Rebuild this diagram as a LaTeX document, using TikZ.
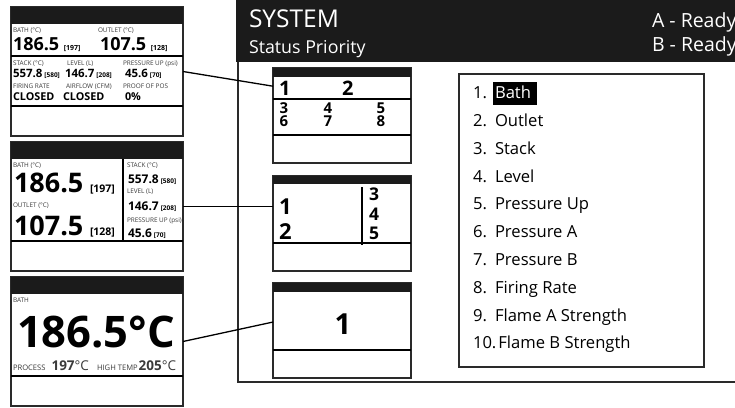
\documentclass[tikz,border=0pt]{standalone}
\usepackage{fontspec}
\setmainfont{Open Sans}
\usetikzlibrary{calc}
\definecolor{hdr}{HTML}{1B1B1B}
\definecolor{lblgray}{HTML}{3A3A3A}
\definecolor{frm}{HTML}{2A2A2A}
\newcommand{\fsz}[1]{\fontsize{#1}{#1}\selectfont}
\begin{document}
\begin{tikzpicture}[x=1pt,y=-1pt,
  txt/.style={anchor=base west, inner sep=0pt, outer sep=0pt},
  lbl/.style={txt, font=\fsz{6.4}, text=lblgray},
  bignum/.style={txt, font=\fsz{#1}\bfseries},
  colnum/.style={anchor=base west, inner sep=0pt, outer sep=0pt, align=left, font=\fontsize{15}{13}\selectfont\bfseries},
  ctrnum/.style={anchor=base, inner sep=0pt, outer sep=0pt, font=\fsz{#1}\bfseries},
  screen/.style={draw=frm, line width=1.1pt, minimum width=172pt, minimum height=129pt, inner sep=0pt, outer sep=0pt},
  miniscreen/.style={draw=frm, line width=1.1pt, minimum width=138pt, minimum height=95pt, inner sep=0pt, outer sep=0pt},
  divider/.style={line width=1.8pt, black},
  conn/.style={line width=1.3pt, black},
  listitem/.style={txt, font=\fsz{16.6}},
  hdrtxt/.style={txt, text=white},
]
\useasboundingbox (0,0) rectangle (735,407);

% ---------- left screens ----------
\node[screen] (s1) at (97,71.5) {};
\fill[hdr] (11,7) rectangle (183,24);
\draw[divider] (11,56) -- (183,56);
\draw[divider] (11,106) -- (183,106);

\node[screen] (s2) at (97,206.5) {};
\fill[hdr] (11,142) rectangle (183,159);
\draw[divider] (11,241) -- (183,241);
\draw[divider] (123,159) -- (123,241);

\node[screen] (s3) at (97,341.5) {};
\fill[hdr] (11,277) rectangle (183,294);
\draw[divider] (11,376) -- (183,376);

% screen 1 texts
\node[lbl] (a1) at (13,32) {BATH (°C)};
\node[lbl] (a2) at (98,32) {OUTLET (°C)};
\node[bignum=18] (a3) at (13,50) {186.5 {\fsz{7}[197]}};
\node[bignum=18] (a4) at (100,50) {107.5 {\fsz{7}[128]}};
\node[lbl] (a5) at (13,65) {STACK (°C)};
\node[lbl] (a6) at (67,65) {LEVEL (L)};
\node[lbl] (a7) at (123,65) {PRESSURE UP (psi)};
\node[bignum=11.5] (a8) at (13,77) {557.8\,{\fsz{6.5}[580]}};
\node[bignum=11.5] (a9) at (65,77) {146.7\,{\fsz{6.5}[208]}};
\node[bignum=11.5] (a10) at (125,77) {45.6\,{\fsz{6.5}[70]}};
\node[lbl] (a11) at (13,88) {FIRING RATE};
\node[lbl] (a12) at (66,88) {AIRFLOW (CFM)};
\node[lbl] (a13) at (123,88) {PROOF OF POS};
\node[bignum=10.8] (a14) at (13,100) {CLOSED};
\node[bignum=10.8] (a15) at (63,100) {CLOSED};
\node[bignum=10.8] (a16) at (125,100) {0\%};

% screen 2 texts
\node[lbl] (b1) at (13,167) {BATH (°C)};
\node[bignum=27] (b2) at (14,192) {186.5};
\node[bignum=10.5] (b3) at (90,192) {[197]};
\node[lbl] (b4) at (13,207) {OUTLET (°C)};
\node[bignum=27] (b5) at (14,235) {107.5};
\node[bignum=10.5] (b6) at (90,235) {[128]};
\node[lbl] (b7) at (127,167) {STACK (°C)};
\node[bignum=12] (b8) at (128,183) {557.8\,{\fsz{6.5}[580]}};
\node[lbl] (b9) at (127,193) {LEVEL (L)};
\node[bignum=12] (b10) at (128,210) {146.7\,{\fsz{6.5}[208]}};
\node[lbl] (b11) at (127,222) {PRESSURE UP (psi)};
\node[bignum=12] (b12) at (128,237) {45.6\,{\fsz{6.5}[70]}};

% screen 3 texts
\node[lbl] (c1) at (13,302) {BATH};
\node[bignum=43.5] (c2) at (17,347) {186.5°C};
\node[lbl, font=\fsz{7.6}] (c3) at (13,370) {PROCESS\hspace{6pt}{\fsz{13.5}\bfseries 197}{\fsz{13.5}°C}};
\node[lbl, font=\fsz{7.6}] (c4) at (97,370) {HIGH TEMP\hspace{1pt}{\fsz{13.5}\bfseries 205}{\fsz{13.5}°C}};

% ---------- system panel ----------
\fill[hdr] (236,0) rectangle (735,62);
\draw[line width=1.6pt, frm] (238,62) -- (238,382) -- (736,382);
\node[hdrtxt, font=\fsz{24.5}] (h1) at (249,27) {SYSTEM};
\node[hdrtxt, font=\fsz{17.8}] (h2) at (249,53) {Status Priority};
\node[hdrtxt, font=\fsz{19.5}] (h3) at (652,27.5) {A - Ready};
\node[hdrtxt, font=\fsz{19.5}] (h4) at (652,51) {B - Ready};

% mini screens
\node[miniscreen] (t1) at (342,115.5) {};
\fill[hdr] (273,68) rectangle (411,77);
\draw[divider] (273,99) -- (411,99);
\draw[divider] (273,135) -- (411,135);
\node[bignum=20] (u1) at (279,95) {1};
\node[bignum=20] (u2) at (342,95) {2};
\node[colnum] (u3) at (279.5,126.5) {3\\6};
\node[colnum] (u4) at (323.5,126.5) {4\\7};
\node[colnum] (u5) at (376.5,126.5) {5\\8};

\node[miniscreen] (t2) at (342,223.5) {};
\fill[hdr] (273,176) rectangle (411,184);
\draw[divider] (273,243) -- (411,243);
\draw[divider] (362,187) -- (362,245);
\node[bignum=22] (v1) at (279,214) {1};
\node[bignum=22] (v2) at (279,239) {2};
\node[bignum=17.5] (v3) at (369,200) {3};
\node[bignum=17.5] (v4) at (369,220) {4};
\node[bignum=17.5] (v5) at (369,239) {5};

\node[miniscreen] (t3) at (342,330.5) {};
\fill[hdr] (273,283) rectangle (411,292);
\draw[divider] (273,350) -- (411,350);
\node[ctrnum=29] (w1) at (343,334) {1};

% list
\node[draw=frm, line width=1.1pt, minimum width=245pt, minimum height=293pt, inner sep=0pt] (lst) at (581.5,220.5) {};
\fill[black] (493,82) rectangle (537,105);
\node[listitem] (l1) at (473,98.7) {\makebox[22pt][l]{1.}\textcolor{white}{Bath}};
\node[listitem] (l2) at (473,126.5) {\makebox[22pt][l]{2.}Outlet};
\node[listitem] (l3) at (473,154.3) {\makebox[22pt][l]{3.}Stack};
\node[listitem] (l4) at (473,182.1) {\makebox[22pt][l]{4.}Level};
\node[listitem] (l5) at (473,209.9) {\makebox[22pt][l]{5.}Pressure Up};
\node[listitem] (l6) at (473,237.7) {\makebox[22pt][l]{6.}Pressure A};
\node[listitem] (l7) at (473,265.5) {\makebox[22pt][l]{7.}Pressure B};
\node[listitem] (l8) at (473,293.3) {\makebox[22pt][l]{8.}Firing Rate};
\node[listitem] (l9) at (473,321.1) {\makebox[22pt][l]{9.}Flame A Strength};
\node[listitem] (l10) at (473,348.9) {10.\hspace{2pt}Flame B Strength};

% connectors
\draw[conn] (s1.east) -- (t1.157);
\draw[conn] (s2.east) -- (s2.east -| t2.west);
\draw[conn] (s3.east) -- (t3.173);
\end{tikzpicture}
\end{document}
